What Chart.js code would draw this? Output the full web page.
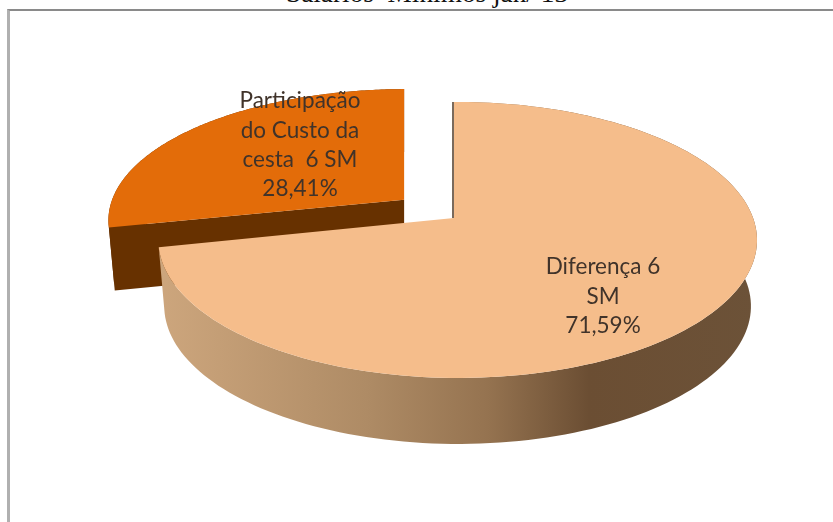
<!DOCTYPE html>
<html>
<head>
<meta charset="utf-8">
<script src="https://cdn.jsdelivr.net/npm/chart.js@4"></script>
<style>
  html, body { margin: 0; padding: 0; background: #fff; overflow: hidden; }
  #wrap { position: relative; width: 833px; height: 522px; overflow: hidden; }
  #frame { position: absolute; left: 7px; top: 9px; width: 840px; height: 530px;
           border-left: 3px solid #b0b0b0; border-top: 2px solid #8a8a8a; }
  #title { position: absolute; left: 0; width: 854px; top: -22px; text-align: center;
           font: 27.3px "Liberation Serif", serif; color: #111; white-space: pre; }
  canvas { position: absolute; left: 0; top: 0; }
</style>
</head>
<body>
<div id="wrap">
  <div id="frame"></div>
  <div id="title">Salarios  Minimos jan/ 13</div>
  <canvas id="myChart" width="833" height="522"></canvas>
</div>
<script>
// Slices, in drawing order clockwise from the top
var labels = ['Diferença 6 SM', 'Participação do Custo da cesta  6 SM'];
var shares = [71.59, 28.41];
var faceColors = ['#f5bd8b', '#e36c09'];
var pull = [0, 0.222];
var labelLines = [['Diferença 6', 'SM', '71,59%'], ['Participação', 'do Custo da', 'cesta  6 SM', '28,41%']];
var labelSpots = [[603, 296.5], [300, 145]];

// Perspective of the tilted disc
var view = { x: 454, y: 218, rx: 295.5, ry: 134.5, kv: 0.159, ku: 0.012, depth: 66, shrink: 0.98 };

function perspective(u, v) {
  return 1 - view.kv * v - view.ku * u;
}

function project(u, v) {
  var w = perspective(u, v);
  return [view.rx * u / w, view.ry * v / w];
}

// Point on a slice: r is 0..1 of the radius, angle is the arc element's own angle.
// A pulled slice moves back along its middle angle and flattens a little.
function slicePoint(el, off, r, angle, down) {
  var mid = (el.startAngle + el.endAngle) / 2;
  var cu = off * Math.cos(mid), cv = off * Math.sin(mid);
  var wc = perspective(cu, cv);
  var centre = project(cu, cv);
  var p = project(r * Math.cos(angle), r * Math.sin(angle));
  var far = 1 / (wc * wc);
  var x = centre[0] + p[0] * (down ? view.shrink : 1);
  var y = centre[1] + p[1] * far + (down ? view.depth * far : 0);
  return [view.x + x, view.y + y];
}

function polygon(ctx, pts, fill) {
  ctx.beginPath();
  pts.forEach(function (p, i) { i ? ctx.lineTo(p[0], p[1]) : ctx.moveTo(p[0], p[1]); });
  ctx.closePath();
  ctx.fillStyle = fill;
  ctx.fill();
}

function arcPoints(el, off, down, reverse) {
  var pts = [];
  var steps = 160;
  for (var i = 0; i <= steps; i++) {
    var t = reverse ? 1 - i / steps : i / steps;
    pts.push(slicePoint(el, off, 1, el.startAngle + (el.endAngle - el.startAngle) * t, down));
  }
  return pts;
}

var rimGradient;
function drawSlice(ctx, el, i) {
  var off = pull[i];
  var c = el.startAngle;

  // outer rim
  polygon(ctx, arcPoints(el, off, false, false).concat(arcPoints(el, off, true, true)), i === 0 ? rimGradient : '#673100');

  if (i === 1) {
    // cut face along the side that looks at the viewer
    polygon(ctx, [slicePoint(el, off, 0, c, false), slicePoint(el, off, 1, c, false),
                  slicePoint(el, off, 1, c, true), slicePoint(el, off, 0, c, true)], '#673100');
  } else {
    // the other cut face only shows as a thin dark edge
    var a = slicePoint(el, off, 1, c, false), b = slicePoint(el, off, 0, c, false);
    ctx.beginPath();
    ctx.moveTo(a[0] - 1, a[1]);
    ctx.lineTo(b[0] - 1, b[1]);
    ctx.lineWidth = 2;
    ctx.strokeStyle = '#7a6a5c';
    ctx.stroke();
  }

  // top face
  polygon(ctx, [slicePoint(el, off, 0, c, false)].concat(arcPoints(el, off, false, false)), faceColors[i]);
}

var pie3d = {
  id: 'pie3d',
  afterDatasetsDraw: function (chart) {
    var ctx = chart.ctx;
    var arcs = chart.getDatasetMeta(0).data;
    rimGradient = ctx.createLinearGradient(158, 0, 757, 0);
    rimGradient.addColorStop(0, '#cda67d');
    rimGradient.addColorStop(0.35, '#ae8b65');
    rimGradient.addColorStop(0.55, '#957350');
    rimGradient.addColorStop(0.72, '#6b4e33');
    rimGradient.addColorStop(1, '#6c5238');
    ctx.save();
    // the pulled slice sits behind the big one
    for (var i = arcs.length - 1; i >= 0; i--) {
      drawSlice(ctx, arcs[i], i);
    }
    ctx.font = '22.5px Lato, sans-serif';
    ctx.textAlign = 'center';
    ctx.textBaseline = 'middle';
    ctx.fillStyle = '#40332a';
    labelLines.forEach(function (lines, i) {
      lines.forEach(function (line, n) {
        ctx.fillText(line, labelSpots[i][0], labelSpots[i][1] - (lines.length - 1) * 14.7 + n * 29.4);
      });
    });
    ctx.restore();
  }
};

var myChart = new Chart(document.getElementById('myChart'), {
  type: 'pie',
  data: {
    labels: labels,
    datasets: [{
      data: shares,
      backgroundColor: 'rgba(0,0,0,0)',
      borderWidth: 0
    }]
  },
  options: {
    responsive: false,
    animation: false,
    plugins: { legend: { display: false }, tooltip: { enabled: false } }
  },
  plugins: [pie3d]
});
</script>
</body>
</html>
